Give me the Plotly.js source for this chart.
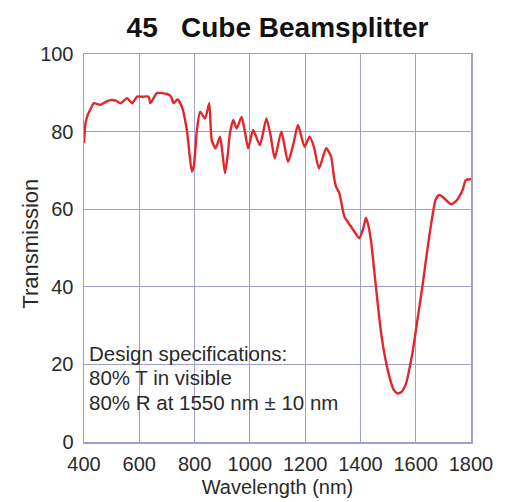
<!DOCTYPE html>
<html>
<head>
<meta charset="utf-8">
<script src="https://cdn.plot.ly/plotly-3.0.1.min.js"></script>
<style>html,body{margin:0;padding:0;background:#fff;}#chart{width:512px;height:502px;}</style>
</head>
<body>
<div id="chart"></div>
<script>
const wavelength = [400,405,412,425,435,459,475,495,515,532,556,574,592,610,634,640,664,700,715,724,738,754,772,782,790,797,808,820,838,853,862,876,892,900,910,920,928,940,952,970,982,994,1012,1036,1060,1075,1090,1114,1138,1158,1174,1198,1216,1232,1250,1276,1294,1305,1312,1324,1342,1366,1385,1396,1410,1420,1428,1438,1456,1475,1490,1505,1520,1534,1550,1565,1588,1606,1624,1642,1660,1672,1685,1700,1727,1745,1757,1770,1781,1800];
const transmission = [77,82,84,86,87.3,86.9,87.5,88.1,88,87.3,88.6,87.3,89,89,89,87.3,89.9,89.7,89,87.3,88.3,86.4,80.4,74,69.7,71,80,85.1,83.4,87.3,77.8,75.7,78.7,75,69.3,74,79.6,83,80.8,83.8,80,75.7,80.4,76.5,83.4,79,73.1,80,72.2,77,81.7,76.1,78.7,76,70.5,75.7,73.5,68,65.8,64.1,58.1,55.5,53.5,52.5,55,57.8,56,52,40,28,21.5,16.8,13.5,12.5,13,15.1,22.9,31.4,40,49.5,58,62.5,63.7,63,61.3,62,63.2,65,67.5,67.7];
const xTicks = [400,600,800,1000,1200,1400,1600,1800];
const yTicks = [0,20,40,60,80,100];
const specLines = ["Design specifications:", "80% T in visible", "80% R at 1550 nm \u00b1 10 nm"];
const titleText = "45\u00a0\u00a0\u00a0Cube Beamsplitter";
const xTitle = "Wavelength (nm)";
const yTitle = "Transmission";

const gridColor = "#9e9ecf";
const font = "Liberation Sans, Arial, sans-serif";
const textColor = "#2a2a2a";

const trace = {
  x: wavelength, y: transmission, type: "scatter", mode: "lines",
  line: {color: "#e3262b", width: 2.4, shape: "spline", smoothing: 0.6},
  hoverinfo: "skip"
};

const annY = [0.229, 0.165, 0.103];
const annotations = specLines.map((t, i) => ({
  text: t, xref: "paper", yref: "paper", x: 0.007, y: annY[i],
  xanchor: "left", yanchor: "middle", showarrow: false,
  font: {family: font, size: 20.5, color: textColor}
}));
annotations.push({
  text: yTitle, xref: "paper", yref: "paper", x: -0.138, y: 0.51,
  xanchor: "center", yanchor: "middle", textangle: -90, showarrow: false,
  font: {family: font, size: 22, color: textColor}
});

const layout = {
  width: 512, height: 502,
  margin: {l: 83.5, r: 41, t: 54, b: 60},
  paper_bgcolor: "#fff", plot_bgcolor: "#fff",
  showlegend: false,
  title: {text: titleText, x: 0.5, xref: "paper", xanchor: "center",
          y: 1 - 27/502, yref: "container", yanchor: "middle",
          font: {family: font, size: 28, color: "#111", weight: "bold"}},
  xaxis: {
    range: [400, 1800], tickvals: xTicks, ticktext: xTicks.map(String),
    showgrid: true, gridcolor: gridColor, gridwidth: 1.2,
    showline: true, linecolor: gridColor, linewidth: 1.5, mirror: true,
    zeroline: false, ticks: "", ticklabelstandoff: 3,
    tickfont: {family: font, size: 20, color: textColor},
    title: {text: xTitle, standoff: 6, font: {family: font, size: 20, color: textColor}}
  },
  yaxis: {
    range: [0, 100], tickvals: yTicks, ticktext: yTicks.map(String),
    showgrid: true, gridcolor: gridColor, gridwidth: 1.2,
    showline: true, linecolor: gridColor, linewidth: 1.5, mirror: true,
    zeroline: false, ticks: "", ticklabelstandoff: 5,
    tickfont: {family: font, size: 20, color: textColor}
  },
  annotations: annotations
};

Plotly.newPlot("chart", [trace], layout, {displayModeBar: false, staticPlot: true});
</script>
</body>
</html>
